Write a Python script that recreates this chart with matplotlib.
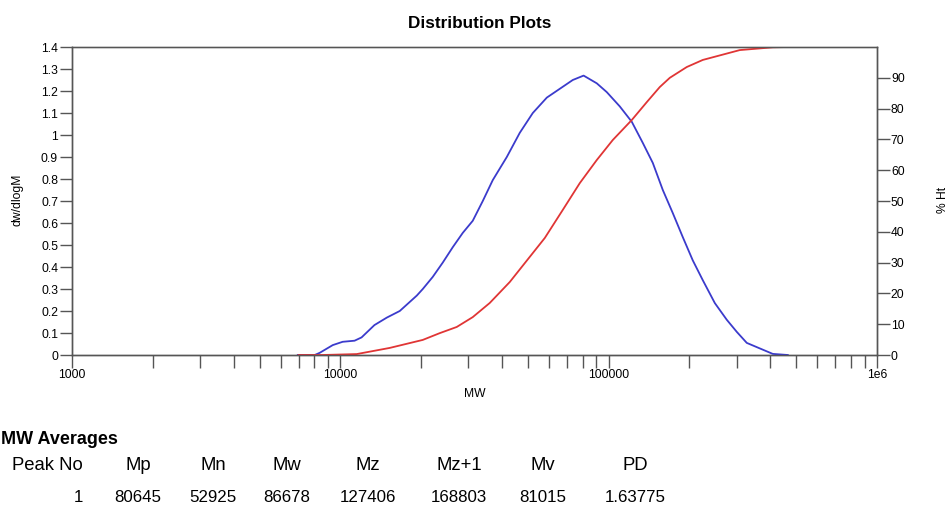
import numpy as np
import matplotlib
matplotlib.use("Agg")
import matplotlib.pyplot as plt
from matplotlib.ticker import FixedLocator, LogLocator, NullFormatter

plt.rcParams['font.family'] = ['Liberation Sans', 'DejaVu Sans']

# dw/dlogM trace (blue)
mw_dist = [6940, 8030, 8380, 9370, 10200, 11300, 12000, 13400, 14900, 16650,
           19270, 20290, 22100, 24080, 26240, 28590, 31150, 33950, 36990, 41720,
           46640, 52150, 58820, 65740, 73480, 80645, 90290, 98380, 110000, 121950,
           134040, 146050, 159130, 173380, 188870, 205820, 224270, 248680, 275570,
           300280, 327130, 365750, 408920, 465140]
dwdlogm = [0.0, 0.0, 0.01, 0.045, 0.06, 0.065, 0.08, 0.136, 0.17, 0.2,
           0.27, 0.30, 0.355, 0.42, 0.49, 0.555, 0.61, 0.70, 0.795, 0.90,
           1.01, 1.10, 1.17, 1.21, 1.25, 1.27, 1.235, 1.195, 1.13, 1.06,
           0.964, 0.873, 0.75, 0.645, 0.536, 0.43, 0.34, 0.236, 0.16,
           0.105, 0.055, 0.03, 0.005, 0.0]

# cumulative % height (red)
mw_cum = [6990, 8600, 11510, 15280, 20290, 23470, 27150, 31150, 36050, 42800,
          57810, 67440, 78040, 90290, 103580, 121950, 138680, 155050, 168990,
          195470, 224270, 308070, 408920, 465140]
pct_ht = [0.0, 0.0, 0.3, 2.3, 4.9, 7.1, 9.1, 12.3, 16.9, 23.7,
          38.0, 47.1, 55.8, 63.3, 69.8, 76.3, 82.1, 87.0, 90.0,
          93.5, 95.8, 99.0, 99.9, 100.0]

# MW averages table
table_cols = ["Mp", "Mn", "Mw", "Mz", "Mz+1", "Mv", "PD"]
table_vals = ["80645", "52925", "86678", "127406", "168803", "81015", "1.63775"]
peak_no = "1"

W, H = 952, 509
fig = plt.figure(figsize=(W / 100, H / 100), dpi=100)
ax = fig.add_axes([72 / W, 1 - 355 / H, (877 - 72) / W, (355 - 47) / H])
ax2 = ax.twinx()

spine_col = '#555555'
ax.plot(mw_dist, dwdlogm, color='#3b3bcc', lw=1.3, zorder=3)
ax2.plot(mw_cum, pct_ht, color='#e03535', lw=1.3)

ax.set_xscale('log')
ax.set_xlim(1000, 1e6)
ax.set_ylim(0, 1.4)
ax2.set_ylim(0, 100)

ax.xaxis.set_major_locator(FixedLocator([1e3, 1e4, 1e5, 1e6]))
ax.set_xticklabels(["1000", "10000", "100000", "1e6"])
ax.xaxis.set_minor_locator(LogLocator(base=10, subs=np.arange(2, 10)))
ax.xaxis.set_minor_formatter(NullFormatter())

yt = np.round(np.arange(0, 1.41, 0.1), 1)
ax.set_yticks(yt)
ax.set_yticklabels([f"{v:g}" for v in yt])
ax2.set_yticks(np.arange(0, 91, 10))

for a in (ax, ax2):
    for s in a.spines.values():
        s.set_color(spine_col)
        s.set_linewidth(1.0)
    a.tick_params(which='both', direction='out', length=9, width=1,
                  color=spine_col, labelsize=8.7, pad=1)
ax.spines['top'].set_color('#888888')

ax.set_xlabel("MW", fontsize=8.7, labelpad=5)
fig.text(17 / W, 1 - 200 / H, "dw/dlogM", rotation=90, ha='center', va='center', fontsize=8.7)
fig.text(943 / W, 1 - 200 / H, "% Ht", rotation=90, ha='center', va='center', fontsize=8.7)
fig.text(480 / W, 1 - 23 / H, "Distribution Plots", ha='center', va='center',
         fontsize=12.3, fontweight='bold')

# averages block under the chart
fig.text(1 / W, 1 - 439 / H, "MW Averages", ha='left', va='center',
         fontsize=13, fontweight='bold')
col_x = [138, 213, 287, 368, 459, 543, 635]
fig.text(83 / W, 1 - 466 / H, "Peak No", ha='right', va='center', fontsize=13.3)
fig.text(83 / W, 1 - 497 / H, peak_no, ha='right', va='center', fontsize=12.2)
for cx, name, val in zip(col_x, table_cols, table_vals):
    fig.text(cx / W, 1 - 466 / H, name, ha='center', va='center', fontsize=13.3)
    fig.text(cx / W, 1 - 497 / H, val, ha='center', va='center', fontsize=12.2)

fig.savefig("out.png", dpi=100, facecolor='white')
